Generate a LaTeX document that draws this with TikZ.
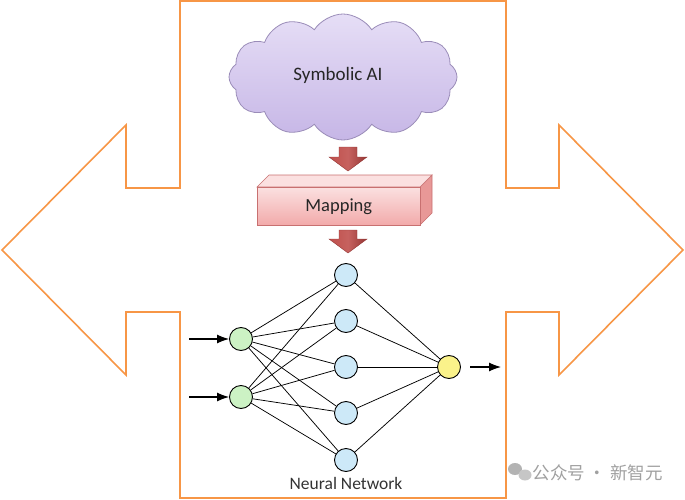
\documentclass[tikz,border=0pt]{standalone}
\usepackage{fontspec}
\setmainfont{Carlito}
\newfontfamily\cjk{Noto Sans CJK SC}
\usetikzlibrary{shapes.symbols,arrows.meta}
\definecolor{frameor}{HTML}{F79646}
\definecolor{cloudtop}{HTML}{E6DEF6}
\definecolor{cloudbot}{HTML}{C6B6E6}
\definecolor{cloudline}{HTML}{9A8CB8}
\definecolor{redA}{HTML}{C0504D}
\definecolor{redB}{HTML}{943634}
\definecolor{pinkA}{HTML}{FBE0E0}
\definecolor{pinkB}{HTML}{F2AAAA}
\definecolor{pinkline}{HTML}{C87070}
\definecolor{ingreen}{HTML}{CCF2C4}
\definecolor{hidblue}{HTML}{CDE9F8}
\definecolor{outyel}{HTML}{FAF28A}
\definecolor{wmgray}{HTML}{A0A0A0}
\begin{document}
\begin{tikzpicture}[x=1pt,y=-1pt,
  neuron/.style={circle,draw=black,line width=0.9pt,minimum size=23pt,inner sep=0pt},
  edge/.style={draw=black,line width=0.75pt},
  blockarrow/.style={draw=redB,line width=0.4pt,left color=redA,right color=redB,middle color=redA!90!white},
  feed/.style={-{Latex[length=12pt,width=9pt]},line width=1.1pt}
]
\useasboundingbox (0,0) rectangle (685,500);
% orange double-arrow frame
\draw[frameor,line width=1.6pt,line join=miter]
  (180,1) -- (506,1) -- (506,188) -- (559,188) -- (559,125) -- (683,250) -- (559,375)
  -- (559,312) -- (506,312) -- (506,498) -- (180,498) -- (180,312) -- (126,312)
  -- (126,375) -- (2,250) -- (126,125) -- (126,188) -- (180,188) -- cycle;
% cloud
\node[cloud,cloud puffs=12,cloud puff arc=115,aspect=1.9,draw=cloudline,line width=0.8pt,
  top color=cloudtop,bottom color=cloudbot,minimum width=228pt,minimum height=126pt,inner sep=0pt]
  (cloud) at (343,77) {};
\node[font=\fontsize{19}{22}\selectfont,text=black!85] (symtxt) at (338,75) {Symbolic AI};
% mapping box (3D)
\path[draw=pinkline,line width=0.6pt,fill=pinkB!80!redA]
  (420,187) -- (432,175) -- (432,213) -- (420,225) -- cycle;
\path[draw=pinkline,line width=0.6pt,fill=pinkA]
  (257,187) -- (269,175) -- (432,175) -- (420,187) -- cycle;
\node[draw=pinkline,line width=0.6pt,top color=pinkA,bottom color=pinkB,minimum width=163pt,
  minimum height=38pt,inner sep=0pt,anchor=north west,font=\fontsize{18.5}{22}\selectfont,text=black!85]
  (map) at (257,187) {Mapping};
% red block arrows
\path[blockarrow] (339,147) -- (357,147) -- (357,157) -- (367,157) -- (348,171)
  -- (329,157) -- (339,157) -- cycle;
\path[blockarrow] (339,230) -- (357,230) -- (357,239) -- (367,239) -- (348,253)
  -- (329,239) -- (339,239) -- cycle;
% neural network
\node[neuron,fill=ingreen] (i1) at (241,339) {};
\node[neuron,fill=ingreen] (i2) at (241,397) {};
\node[neuron,fill=hidblue] (h1) at (346,275) {};
\node[neuron,fill=hidblue] (h2) at (346,321) {};
\node[neuron,fill=hidblue] (h3) at (346,367) {};
\node[neuron,fill=hidblue] (h4) at (346,413) {};
\node[neuron,fill=hidblue] (h5) at (346,460) {};
\node[neuron,fill=outyel] (o) at (449,367) {};
\foreach \i in {i1,i2}{\foreach \h in {h1,h2,h3,h4,h5}{\draw[edge] (\i) -- (\h);}}
\foreach \h in {h1,h2,h3,h4,h5}{\draw[edge] (\h) -- (o);}
\coordinate (in1) at (189,339);
\coordinate (in2) at (189,397);
\coordinate (outend) at (501,367);
\coordinate (outstart) at (470,367);
\draw[feed] (in1) -- (i1);
\draw[feed] (in2) -- (i2);
\draw[feed] (outstart) -- (outend);
\node[font=\fontsize{17.5}{20}\selectfont,text=black!80] (nnlabel) at (346,483) {Neural Network};
% watermark
\fill[wmgray!80] (515,469) ellipse (7pt and 6pt);
\fill[wmgray!60] (525,475) ellipse (6.5pt and 5.5pt);
\node[font=\cjk\fontsize{17.5}{19}\selectfont,text=wmgray,anchor=west] (wm) at (529,473) {公众号 · 新智元};
\end{tikzpicture}
\end{document}
